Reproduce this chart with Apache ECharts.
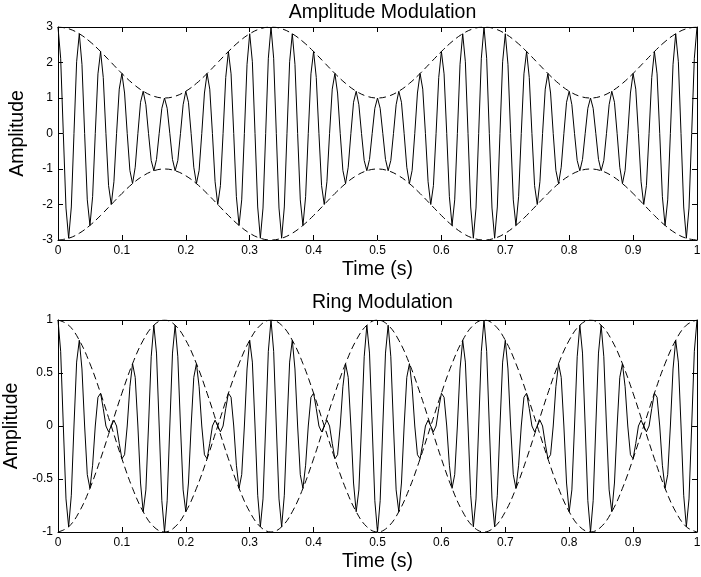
<!DOCTYPE html>
<html>
<head>
<meta charset="utf-8">
<script src="https://cdn.jsdelivr.net/npm/echarts@6/dist/echarts.min.js"></script>
<style>
html,body{margin:0;padding:0;background:#fff;}
#chart{width:701px;height:577px;}
</style>
</head>
<body>
<div id="chart"></div>
<script>
// ---- data ----
// sample spacing of the plotted signals (s) and of the dashed envelopes (s)
var signalStep = 1 / 240;
var envelopeStep = 1 / 60;

// Amplitude-modulated signal, 241 samples from 0 to 1 s
var amSignal = [
  3, 2.12, 0, -2.10, -2.95, -2.07, 0, 2.02,
  2.81, 1.95, 0, -1.87, -2.59, -1.78, 0, 1.68,
  2.31, 1.58, 0, -1.47, -2, -1.36, 0, 1.25,
  1.69, 1.14, 0, -1.04, -1.41, -0.95, 0, 0.88,
  1.19, 0.81, 0, -0.76, -1.05, -0.73, 0, 0.71,
  1, 0.71, 0, -0.73, -1.05, -0.76, 0, 0.81,
  1.19, 0.88, 0, -0.95, -1.41, -1.04, 0, 1.14,
  1.69, 1.25, 0, -1.36, -2, -1.47, 0, 1.58,
  2.31, 1.68, 0, -1.78, -2.59, -1.87, 0, 1.95,
  2.81, 2.02, 0, -2.07, -2.95, -2.10, 0, 2.12,
  3, 2.12, 0, -2.10, -2.95, -2.07, 0, 2.02,
  2.81, 1.95, 0, -1.87, -2.59, -1.78, 0, 1.68,
  2.31, 1.58, 0, -1.47, -2, -1.36, 0, 1.25,
  1.69, 1.14, 0, -1.04, -1.41, -0.95, 0, 0.88,
  1.19, 0.81, 0, -0.76, -1.05, -0.73, 0, 0.71,
  1, 0.71, 0, -0.73, -1.05, -0.76, 0, 0.81,
  1.19, 0.88, 0, -0.95, -1.41, -1.04, 0, 1.14,
  1.69, 1.25, 0, -1.36, -2, -1.47, 0, 1.58,
  2.31, 1.68, 0, -1.78, -2.59, -1.87, 0, 1.95,
  2.81, 2.02, 0, -2.07, -2.95, -2.10, 0, 2.12,
  3, 2.12, 0, -2.10, -2.95, -2.07, 0, 2.02,
  2.81, 1.95, 0, -1.87, -2.59, -1.78, 0, 1.68,
  2.31, 1.58, 0, -1.47, -2, -1.36, 0, 1.25,
  1.69, 1.14, 0, -1.04, -1.41, -0.95, 0, 0.88,
  1.19, 0.81, 0, -0.76, -1.05, -0.73, 0, 0.71,
  1, 0.71, 0, -0.73, -1.05, -0.76, 0, 0.81,
  1.19, 0.88, 0, -0.95, -1.41, -1.04, 0, 1.14,
  1.69, 1.25, 0, -1.36, -2, -1.47, 0, 1.58,
  2.31, 1.68, 0, -1.78, -2.59, -1.87, 0, 1.95,
  2.81, 2.02, 0, -2.07, -2.95, -2.10, 0, 2.12,
  3
];

// AM dashed envelopes, 61 samples from 0 to 1 s
var amUpper = [
  3, 2.951, 2.809, 2.588, 2.309, 2, 1.691, 1.412, 1.191, 1.049,
  1, 1.049, 1.191, 1.412, 1.691, 2, 2.309, 2.588, 2.809, 2.951,
  3, 2.951, 2.809, 2.588, 2.309, 2, 1.691, 1.412, 1.191, 1.049,
  1, 1.049, 1.191, 1.412, 1.691, 2, 2.309, 2.588, 2.809, 2.951,
  3, 2.951, 2.809, 2.588, 2.309, 2, 1.691, 1.412, 1.191, 1.049,
  1, 1.049, 1.191, 1.412, 1.691, 2, 2.309, 2.588, 2.809, 2.951,
  3
];
var amLower = [
  -3, -2.951, -2.809, -2.588, -2.309, -2, -1.691, -1.412, -1.191, -1.049,
  -1, -1.049, -1.191, -1.412, -1.691, -2, -2.309, -2.588, -2.809, -2.951,
  -3, -2.951, -2.809, -2.588, -2.309, -2, -1.691, -1.412, -1.191, -1.049,
  -1, -1.049, -1.191, -1.412, -1.691, -2, -2.309, -2.588, -2.809, -2.951,
  -3, -2.951, -2.809, -2.588, -2.309, -2, -1.691, -1.412, -1.191, -1.049,
  -1, -1.049, -1.191, -1.412, -1.691, -2, -2.309, -2.588, -2.809, -2.951,
  -3
];

// Ring-modulated signal, 241 samples from 0 to 1 s
var ringSignal = [
  1, 0.705, 0, -0.688, -0.951, -0.653, 0, 0.603,
  0.809, 0.538, 0, -0.459, -0.588, -0.370, 0, 0.271,
  0.309, 0.165, 0, -0.055, 0, 0.055, 0, -0.165,
  -0.309, -0.271, 0, 0.370, 0.588, 0.459, 0, -0.538,
  -0.809, -0.603, 0, 0.653, 0.951, 0.688, 0, -0.705,
  -1, -0.705, 0, 0.688, 0.951, 0.653, 0, -0.603,
  -0.809, -0.538, 0, 0.459, 0.588, 0.370, 0, -0.271,
  -0.309, -0.165, 0, 0.055, 0, -0.055, 0, 0.165,
  0.309, 0.271, 0, -0.370, -0.588, -0.459, 0, 0.538,
  0.809, 0.603, 0, -0.653, -0.951, -0.688, 0, 0.705,
  1, 0.705, 0, -0.688, -0.951, -0.653, 0, 0.603,
  0.809, 0.538, 0, -0.459, -0.588, -0.370, 0, 0.271,
  0.309, 0.165, 0, -0.055, 0, 0.055, 0, -0.165,
  -0.309, -0.271, 0, 0.370, 0.588, 0.459, 0, -0.538,
  -0.809, -0.603, 0, 0.653, 0.951, 0.688, 0, -0.705,
  -1, -0.705, 0, 0.688, 0.951, 0.653, 0, -0.603,
  -0.809, -0.538, 0, 0.459, 0.588, 0.370, 0, -0.271,
  -0.309, -0.165, 0, 0.055, 0, -0.055, 0, 0.165,
  0.309, 0.271, 0, -0.370, -0.588, -0.459, 0, 0.538,
  0.809, 0.603, 0, -0.653, -0.951, -0.688, 0, 0.705,
  1, 0.705, 0, -0.688, -0.951, -0.653, 0, 0.603,
  0.809, 0.538, 0, -0.459, -0.588, -0.370, 0, 0.271,
  0.309, 0.165, 0, -0.055, 0, 0.055, 0, -0.165,
  -0.309, -0.271, 0, 0.370, 0.588, 0.459, 0, -0.538,
  -0.809, -0.603, 0, 0.653, 0.951, 0.688, 0, -0.705,
  -1, -0.705, 0, 0.688, 0.951, 0.653, 0, -0.603,
  -0.809, -0.538, 0, 0.459, 0.588, 0.370, 0, -0.271,
  -0.309, -0.165, 0, 0.055, 0, -0.055, 0, 0.165,
  0.309, 0.271, 0, -0.370, -0.588, -0.459, 0, 0.538,
  0.809, 0.603, 0, -0.653, -0.951, -0.688, 0, 0.705,
  1
];

// Ring-modulation dashed envelopes, 61 samples from 0 to 1 s
var ringUpper = [
  1, 0.951, 0.809, 0.588, 0.309, 0, -0.309, -0.588, -0.809, -0.951,
  -1, -0.951, -0.809, -0.588, -0.309, 0, 0.309, 0.588, 0.809, 0.951,
  1, 0.951, 0.809, 0.588, 0.309, 0, -0.309, -0.588, -0.809, -0.951,
  -1, -0.951, -0.809, -0.588, -0.309, 0, 0.309, 0.588, 0.809, 0.951,
  1, 0.951, 0.809, 0.588, 0.309, 0, -0.309, -0.588, -0.809, -0.951,
  -1, -0.951, -0.809, -0.588, -0.309, 0, 0.309, 0.588, 0.809, 0.951,
  1
];
var ringLower = [
  -1, -0.951, -0.809, -0.588, -0.309, 0, 0.309, 0.588, 0.809, 0.951,
  1, 0.951, 0.809, 0.588, 0.309, 0, -0.309, -0.588, -0.809, -0.951,
  -1, -0.951, -0.809, -0.588, -0.309, 0, 0.309, 0.588, 0.809, 0.951,
  1, 0.951, 0.809, 0.588, 0.309, 0, -0.309, -0.588, -0.809, -0.951,
  -1, -0.951, -0.809, -0.588, -0.309, 0, 0.309, 0.588, 0.809, 0.951,
  1, 0.951, 0.809, 0.588, 0.309, 0, -0.309, -0.588, -0.809, -0.951,
  -1
];

// Tick labels and text
var xTickLabels = ['0', '0.1', '0.2', '0.3', '0.4', '0.5', '0.6', '0.7', '0.8', '0.9', '1'];
var amTickLabels = ['-3', '-2', '-1', '0', '1', '2', '3'];
var ringTickLabels = ['-1', '-0.5', '0', '0.5', '1'];
var titles = ['Amplitude Modulation', 'Ring Modulation'];
var xName = 'Time (s)';
var yName = 'Amplitude';

// ---- build ----
function pairs(values, step) {
  var out = [];
  for (var i = 0; i < values.length; i++) out.push([i * step, values[i]]);
  return out;
}

var FONT = 'Liberation Sans, Arial, Helvetica, sans-serif';
var BLACK = '#000';
var BIG = 19.5;
var SMALL = 12;
var gridLeft = 58, gridWidth = 639;
var grids = [
  { left: gridLeft, top: 27, width: gridWidth, height: 213, outerBoundsMode: 'none', containLabel: false },
  { left: gridLeft, top: 320, width: gridWidth, height: 212, outerBoundsMode: 'none', containLabel: false }
];

function xAxisPair(gi) {
  return [{
    type: 'value', gridIndex: gi, min: 0, max: 1, interval: 0.1, position: 'bottom',
    axisLine: { show: true, onZero: false, lineStyle: { color: BLACK, width: 1 } },
    axisTick: { show: true, inside: true, length: 5, lineStyle: { color: BLACK } },
    axisLabel: { show: true, color: BLACK, fontFamily: FONT, fontSize: SMALL, margin: 5,
      formatter: function (v) { return xTickLabels[Math.round(v * 10)]; } },
    splitLine: { show: false },
    name: xName, nameLocation: 'middle', nameGap: 20, nameMoveOverlap: false,
    nameTextStyle: { color: BLACK, fontFamily: FONT, fontSize: BIG }
  }, {
    type: 'value', gridIndex: gi, min: 0, max: 1, interval: 0.1, position: 'top',
    axisLine: { show: true, onZero: false, lineStyle: { color: BLACK, width: 1 } },
    axisTick: { show: true, inside: true, length: 5, lineStyle: { color: BLACK } },
    axisLabel: { show: false }, splitLine: { show: false }
  }];
}

function yAxisPair(gi, min, max, interval, labels, nameGap) {
  return [{
    type: 'value', gridIndex: gi, min: min, max: max, interval: interval, position: 'left',
    axisLine: { show: true, onZero: false, lineStyle: { color: BLACK, width: 1 } },
    axisTick: { show: true, inside: true, length: 5, lineStyle: { color: BLACK } },
    axisLabel: { show: true, color: BLACK, fontFamily: FONT, fontSize: SMALL, margin: 5,
      formatter: function (v) { return labels[Math.round((v - min) / interval)]; } },
    splitLine: { show: false },
    name: yName, nameLocation: 'middle', nameGap: nameGap, nameRotate: 90, nameMoveOverlap: false,
    nameTextStyle: { color: BLACK, fontFamily: FONT, fontSize: BIG }
  }, {
    type: 'value', gridIndex: gi, min: min, max: max, interval: interval, position: 'right',
    axisLine: { show: true, onZero: false, lineStyle: { color: BLACK, width: 1 } },
    axisTick: { show: true, inside: true, length: 5, lineStyle: { color: BLACK } },
    axisLabel: { show: false }, splitLine: { show: false }
  }];
}

function lineSeries(xi, yi, data, dashed) {
  return {
    type: 'line', xAxisIndex: xi, yAxisIndex: yi, data: data,
    showSymbol: false, symbol: 'none', smooth: dashed ? 0.4 : false,
    lineStyle: { color: BLACK, width: 1, type: dashed ? [7, 4] : 'solid' },
    silent: true, animation: false, z: dashed ? 3 : 2
  };
}

var option = {
  backgroundColor: '#fff',
  animation: false,
  title: [
    { text: titles[0], left: gridLeft + gridWidth / 2, top: -2, textAlign: 'center',
      textStyle: { color: BLACK, fontFamily: FONT, fontSize: BIG, fontWeight: 'normal' } },
    { text: titles[1], left: gridLeft + gridWidth / 2, top: 288, textAlign: 'center',
      textStyle: { color: BLACK, fontFamily: FONT, fontSize: BIG, fontWeight: 'normal' } }
  ],
  grid: grids,
  xAxis: xAxisPair(0).concat(xAxisPair(1)),
  yAxis: yAxisPair(0, -3, 3, 1, amTickLabels, 30).concat(yAxisPair(1, -1, 1, 0.5, ringTickLabels, 36)),
  series: [
    lineSeries(0, 0, pairs(amSignal, signalStep), false),
    lineSeries(0, 0, pairs(amUpper, envelopeStep), true),
    lineSeries(0, 0, pairs(amLower, envelopeStep), true),
    lineSeries(2, 2, pairs(ringSignal, signalStep), false),
    lineSeries(2, 2, pairs(ringUpper, envelopeStep), true),
    lineSeries(2, 2, pairs(ringLower, envelopeStep), true)
  ]
};

var chart = echarts.init(document.getElementById('chart'), null, { renderer: 'canvas' });
chart.setOption(option);
</script>
</body>
</html>
